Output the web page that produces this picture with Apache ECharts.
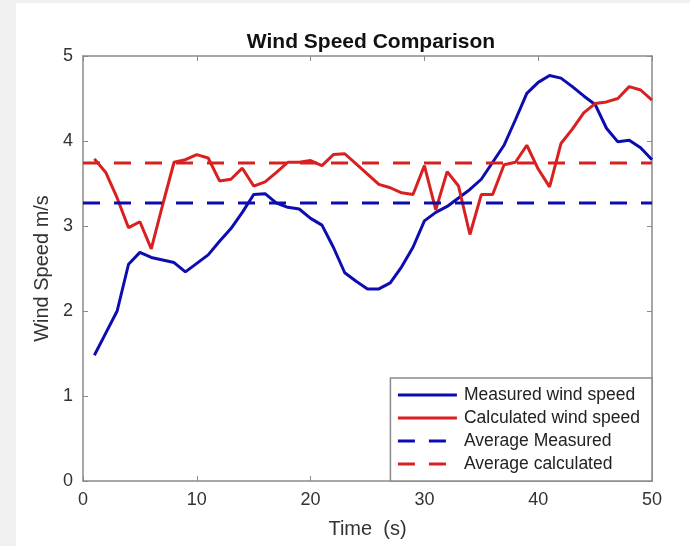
<!DOCTYPE html>
<html>
<head>
<meta charset="utf-8">
<title>Wind Speed Comparison</title>
<script src="https://cdn.jsdelivr.net/npm/echarts@6/dist/echarts.min.js"></script>
<style>
  html, body { margin: 0; padding: 0; background: #f0f0f0; }
  #frame { position: absolute; left: 16px; top: 3px; right: 0; bottom: 0; background: #fff; }
  #chart { position: absolute; left: 0; top: 0; width: 690px; height: 546px; }
</style>
</head>
<body>
<div id="frame"></div>
<div id="chart"></div>
<script>
// time in seconds
var times = [1,2,3,4,5,6,7,8,9,10,11,12,13,14,15,16,17,18,19,20,21,22,23,24,25,
  26,27,28,29,30,31,32,33,34,35,36,37,38,39,40,41,42,43,44,45,46,47,48,49,50];

var measured = [1.48,1.74,2.0,2.55,2.69,2.63,2.6,2.57,2.46,2.56,2.66,2.82,2.97,3.16,3.37,3.38,3.27,3.22,3.2,3.09,3.01,2.75,2.45,2.35,2.26,
  2.26,2.33,2.52,2.75,3.06,3.16,3.23,3.33,3.43,3.55,3.75,3.95,4.25,4.56,4.69,4.77,4.74,4.64,4.53,4.43,4.15,3.99,4.01,3.92,3.78];

var calculated = [3.79,3.63,3.33,2.98,3.05,2.73,3.25,3.75,3.78,3.84,3.8,3.53,3.55,3.68,3.47,3.52,3.63,3.75,3.75,3.77,3.71,3.84,3.85,3.73,3.61,
  3.49,3.45,3.39,3.37,3.71,3.19,3.64,3.47,2.9,3.37,3.37,3.72,3.75,3.95,3.67,3.46,3.97,4.14,4.33,4.44,4.46,4.5,4.64,4.6,4.48];

var avgMeasured = 3.27;
var avgCalculated = 3.74;

var xTicks = [0, 10, 20, 30, 40, 50];
var yTicks = [0, 1, 2, 3, 4, 5];

function pairs(xs, ys) {
  return xs.map(function (x, i) { return [x, ys[i]]; });
}

var chart = echarts.init(document.getElementById('chart'), null, { renderer: 'canvas' });

var axisGray = '#8a8a8a';
var labelColor = '#333';
var font = '"Liberation Sans", Arial, Helvetica, sans-serif';

var baseAxis = {
  axisLine: { show: true, onZero: false, lineStyle: { color: axisGray, width: 1.5 } },
  axisTick: { show: true, inside: true, length: 5, lineStyle: { color: axisGray } },
  splitLine: { show: false }
};

chart.setOption({
  backgroundColor: 'transparent',
  animation: false,
  textStyle: { fontFamily: font },
  title: {
    text: 'Wind Speed Comparison',
    left: 366,
    top: 27,
    textAlign: 'center',
    textStyle: { fontSize: 21, fontWeight: 'bold', color: '#111', fontFamily: font }
  },
  grid: { left: 83, right: 38, top: 56, bottom: 65, containLabel: false },
  legend: {
    orient: 'vertical',
    right: 38,
    bottom: 65,
    backgroundColor: '#fff',
    borderColor: '#8a8a8a',
    borderWidth: 1.5,
    borderRadius: 0,
    padding: [8, 12, 8, 6],
    itemGap: 5,
    itemWidth: 59,
    itemHeight: 14,
    itemStyle: { opacity: 0 },
    lineStyle: { width: 3 },
    textStyle: { fontSize: 17.5, color: '#222', fontFamily: font, padding: [0, 0, 0, 2] },
    data: ['Measured wind speed', 'Calculated wind speed', 'Average Measured', 'Average calculated']
  },
  xAxis: [
    Object.assign({}, baseAxis, {
      type: 'value', min: 0, max: 50, interval: 10, position: 'bottom',
      name: 'Time  (s)', nameLocation: 'middle', nameGap: 38,
      nameTextStyle: { fontSize: 20, color: labelColor, fontFamily: font },
      axisLabel: { fontSize: 18, color: labelColor, margin: 10,
        formatter: function (v) { return xTicks.indexOf(v) >= 0 ? String(v) : ''; } }
    }),
    Object.assign({}, baseAxis, {
      type: 'value', min: 0, max: 50, interval: 10, position: 'top',
      axisLabel: { show: false }
    })
  ],
  yAxis: [
    Object.assign({}, baseAxis, {
      type: 'value', min: 0, max: 5, interval: 1, position: 'left',
      name: 'Wind Speed m/s', nameLocation: 'middle', nameGap: 30, nameRotate: 90,
      nameTextStyle: { fontSize: 20, color: labelColor, fontFamily: font },
      axisLabel: { fontSize: 18, color: labelColor, margin: 10,
        formatter: function (v) { return yTicks.indexOf(v) >= 0 ? String(v) : ''; } }
    }),
    Object.assign({}, baseAxis, {
      type: 'value', min: 0, max: 5, interval: 1, position: 'right',
      axisLabel: { show: false }
    })
  ],
  series: [
    {
      name: 'Measured wind speed', type: 'line', showSymbol: false, symbol: 'none',
      data: pairs(times, measured),
      lineStyle: { color: '#0c0cb0', width: 3 }, itemStyle: { color: '#0c0cb0' }
    },
    {
      name: 'Calculated wind speed', type: 'line', showSymbol: false, symbol: 'none',
      data: pairs(times, calculated),
      lineStyle: { color: '#d82020', width: 3 }, itemStyle: { color: '#d82020' }
    },
    {
      name: 'Average Measured', type: 'line', showSymbol: false, symbol: 'none',
      data: [[0, avgMeasured], [50, avgMeasured]],
      lineStyle: { color: '#0c0cb0', width: 3, type: [17, 14] }, itemStyle: { color: '#0c0cb0' }
    },
    {
      name: 'Average calculated', type: 'line', showSymbol: false, symbol: 'none',
      data: [[0, avgCalculated], [50, avgCalculated]],
      lineStyle: { color: '#d82020', width: 3, type: [17, 14] }, itemStyle: { color: '#d82020' }
    }
  ]
});
</script>
</body>
</html>
